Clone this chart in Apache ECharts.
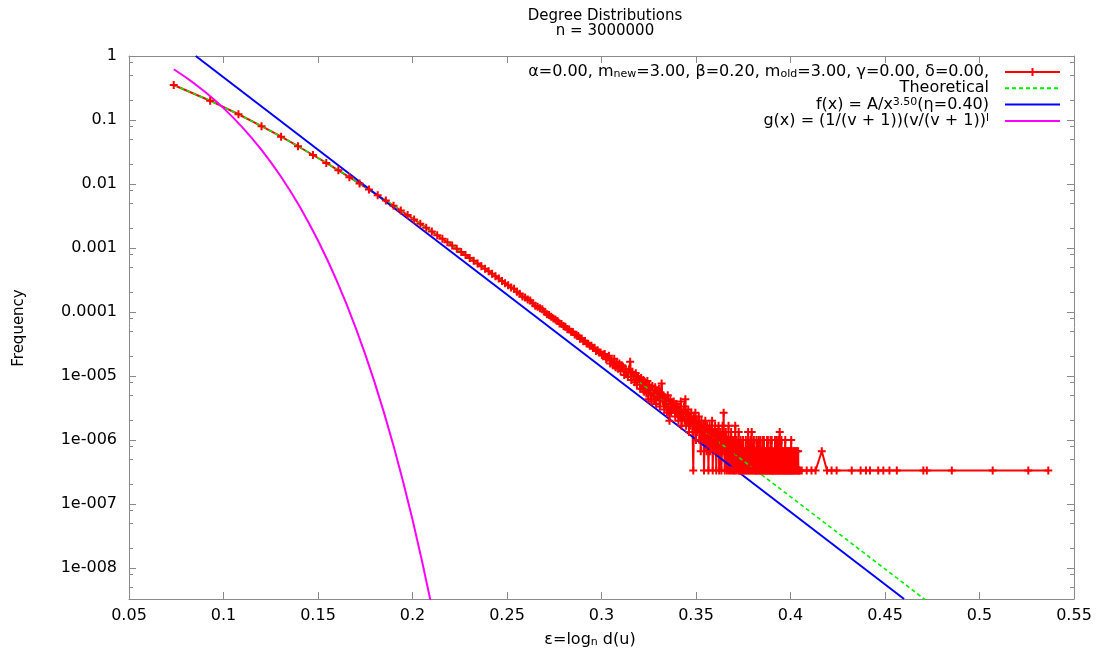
<!DOCTYPE html>
<html><head><meta charset="utf-8">
<script src="https://cdn.jsdelivr.net/npm/echarts@6/dist/echarts.min.js"></script>
<style>html,body{margin:0;padding:0;background:#fff}#c{width:1110px;height:657px}</style>
</head><body><div id="c"></div>
<script>
// ---------------- data ----------------
const n = 3000000;                       // number of nodes (title)
// empirical frequency, degrees 3..59
const headStartDegree = 3;
const headFreq = [0.3525,0.2002,0.1230,0.0802,0.0548,0.0389,0.0284,0.02135,0.01638,0.01280,
  0.01016,0.00819,0.00668,0.00551,0.00459,0.00386,0.00327,0.00280,0.00240,0.00208,
  0.00181,0.00158,0.00139,0.00123,0.00109,9.72e-4,8.69e-4,7.79e-4,7.01e-4,6.33e-4,
  5.73e-4,5.20e-4,4.74e-4,4.32e-4,3.95e-4,3.62e-4,3.33e-4,3.06e-4,2.82e-4,2.61e-4,
  2.42e-4,2.31e-4,2.08e-4,1.93e-4,1.75e-4,1.68e-4,1.57e-4,1.51e-4,1.37e-4,1.25e-4,
  1.21e-4,1.14e-4,1.10e-4,1.006e-4,9.2e-5,8.94e-5,8.45e-5];
// empirical node counts, degrees 60..420 (0 = no node of that degree)
const midStartDegree = 60;
const midCounts = [
  238,229,217,199,195,181,177,162,160,147,146,133,132,126,115,116,105,106,97,96,89,89,82,83,74,76,70,70,64,65,
  66,55,58,62,47,53,44,56,41,49,39,47,36,44,42,31,39,34,29,38,50,26,35,31,24,33,22,30,27,19,
  28,19,26,17,24,16,25,13,22,18,12,21,16,13,20,11,17,14,19,10,16,23,12,15,9,14,11,8,15,9,
  6,13,8,11,9,12,9,7,11,8,10,6,9,7,12,5,8,7,10,6,13,5,8,6,9,4,7,5,8,6,4,1,7,5,8,3,6,4,5,7,3,
  5,2,6,4,3,5,1,4,6,3,2,5,4,1,3,5,2,4,3,6,1,3,4,2,5,3,1,4,2,3,5,1,2,4,3,1,2,5,3,8,2,1,3,4,2,1,3,2,5,1,2,3,1,4,2,1,3,2,1,3,
  1,5,2,1,3,0,2,1,4,1,2,1,3,0,2,1,1,3,2,1,0,2,1,3,1,2,0,1,4,1,2,1,0,3,1,2,4,1,0,2,1,3,1,0,2,1,1,3,1,2,
  1,2,3,1,2,1,3,1,2,1,0,1,3,1,2,3,1,1,2,0,1,2,1,3,1,3,1,0,2,1,1,2,3,1,0,3,1,2,1,1,
  1,2,0,1,3,1,2,1,3,1,0,2,1,3,1,2,1,4,1,0,2,1,3,1,2,0,1,2,1,2,1,0,1,3,1,2,1,2,0,1,
  2,1,2,1,0,1,2,2,1,0,1,3,1,2,0,1,0,1,2,1,2,0,1,0,2,1,0,2,1,2,0,1,0,2,1,0,1,0,0,1];
// sparse tail, degrees above 420
const tailDegrees = [426,443,460,475,499,520,539,561,632,678,707,730,779,811,851,902,1112,1143,1392,1922,2546,2981];
const tailCounts  = [1,1,1,1,2,1,1,1,1,1,1,1,1,1,1,1,1,1,1,1,1,1];
// theoretical distribution
const theoDegrees = [3,4,5,6,7,8,9,10,12,14,16,18,20,23,26,30,35,40,45,50,60,70,80,100,130,160,200,250,300,400,500,700,900,1200];
const theoFreq = [0.3525,0.2002,0.1230,0.0802,0.0548,0.0389,0.0284,0.02135,0.0128,0.00819,0.00551,0.00386,0.0028,0.00181,0.00123,
  7.79e-4,4.74e-4,3.06e-4,2.08e-4,1.47e-4,7.99e-5,4.76e-5,3.03e-5,1.42e-5,5.79e-6,2.84e-6,1.31e-6,6.08e-7,3.23e-7,1.19e-7,
  5.47e-8,1.69e-8,7.05e-9,2.58e-9];
// f(x) = A/x^3.50
const powerEps  = [0.0853, 0.4601];
const powerFreq = [1, 3.28e-9];
// g(x)
const geoEps  = [0.0737,0.080,0.085,0.090,0.095,0.100,0.105,0.110,0.115,0.120,0.125,0.130,0.135,0.140,
  0.145,0.150,0.155,0.160,0.165,0.170,0.175,0.180,0.185,0.190,0.195,0.200,0.205,0.210];
const geoFreq = [0.620,0.465,0.363,0.278,0.209,0.1535,0.110,0.0768,0.0522,0.0344,0.0220,0.01357,8.06e-3,4.60e-3,
  2.51e-3,1.31e-3,6.50e-4,3.05e-4,1.35e-4,5.61e-5,2.18e-5,7.88e-6,2.63e-6,8.06e-7,2.25e-7,5.71e-8,1.30e-8,2.65e-9];
// axes
const xRange = [0.05, 0.55];
const xStep = 0.05;
const xTickLabels = ['0.05','0.1','0.15','0.2','0.25','0.3','0.35','0.4','0.45','0.5','0.55'];
const yRange = [3.28e-9, 1];
const yTickValues = [1,0.1,0.01,0.001,0.0001,1e-5,1e-6,1e-7,1e-8];
const yTickLabels = ['1','0.1','0.01','0.001','0.0001','1e-005','1e-006','1e-007','1e-008'];
const yMinorMantissas = [2,5,8];

// ---------------- build ----------------
const lg = v => Math.log10(v);
const eps = d => Math.log(d) / Math.log(n);
const yMinLog = lg(yRange[0]), yMaxLog = lg(yRange[1]);
const yMajorLog = yTickValues.map(lg);
const yMinorLog = [];
for (let k = 0; k >= -9; k--) yMinorMantissas.forEach(m => { const v = k - 1 + lg(m); if (v >= yMinLog && v <= yMaxLog) yMinorLog.push(v); });

const redData = [];
headFreq.forEach((f, i) => redData.push([eps(headStartDegree + i), lg(f)]));
midCounts.forEach((c, i) => { if (c > 0) redData.push([eps(midStartDegree + i), lg(c / n)]); });
tailDegrees.forEach((d, i) => redData.push([eps(d), lg(tailCounts[i] / n)]));
const theoData = theoDegrees.map((d, i) => [eps(d), lg(theoFreq[i])]);
const powerData = powerEps.map((e, i) => [e, lg(powerFreq[i])]);
const geoData = geoEps.map((e, i) => [e, lg(geoFreq[i])]);

const FONT = 'DejaVu Sans';
const GRAY = '#8a8a8a';
const plus = 'path://M3,0H5V3H8V5H5V8H3V5H0V3H3Z';
const legendText = {
  emp: 'α=0.00, m{sub|new}=3.00, β=0.20, m{sub|old}=3.00, γ=0.00, δ=0.00,{sp|}',
  Theoretical: 'Theoretical{sp|}',
  pow: 'f(x) = A/x{sup|3.50}(η=0.40){sp|}',
  geo: 'g(x) = (1/(v + 1))(v/(v + 1)){sup|l}{sp|}'
};

function xAxisCfg(pos, labels) {
  return {
    type: 'value', position: pos, min: xRange[0], max: xRange[1], interval: xStep,
    axisLine: { show: true, onZero: false, lineStyle: { color: GRAY, width: 1 } },
    axisTick: { show: true, inside: true, length: 7, lineStyle: { color: GRAY } },
    axisLabel: { show: labels, color: '#000', fontFamily: FONT, fontSize: 16, margin: 9,
      formatter: v => xTickLabels[Math.round((v - xRange[0]) / xStep)] },
    splitLine: { show: false }
  };
}
function yAxisCfg(pos, minor) {
  return {
    type: 'value', position: pos, min: yMinLog, max: yMaxLog,
    axisLine: { show: !minor, onZero: false, lineStyle: { color: GRAY, width: 1 } },
    axisTick: { show: true, inside: true, length: minor ? 4 : 7, customValues: minor ? yMinorLog : yMajorLog, lineStyle: { color: GRAY } },
    axisLabel: { show: pos === 'left' && !minor, customValues: yMajorLog, color: '#000', fontFamily: FONT, fontSize: 16, margin: 12,
      formatter: v => yTickLabels[Math.round(-v)] },
    splitLine: { show: false }
  };
}

const chart = echarts.init(document.getElementById('c'), null, { renderer: 'canvas' });
chart.setOption({
  animation: false,
  backgroundColor: '#fff',
  grid: { left: 129, top: 56, right: 36, bottom: 58, containLabel: false },
  xAxis: [xAxisCfg('bottom', true), xAxisCfg('top', false)],
  yAxis: [yAxisCfg('left', false), yAxisCfg('left', true), yAxisCfg('right', false), yAxisCfg('right', true)],
  legend: {
    data: [
      { name: 'emp' },
      { name: 'Theoretical', itemStyle: { opacity: 0 } },
      { name: 'pow', itemStyle: { opacity: 0 } },
      { name: 'geo', itemStyle: { opacity: 0 } }
    ],
    orient: 'vertical', align: 'right', right: 49, top: 64, itemGap: 0.3,
    itemWidth: 55, itemHeight: 10, padding: 0,
    formatter: name => legendText[name],
    textStyle: { fontFamily: FONT, fontSize: 16, color: '#000', lineHeight: 16,
      rich: {
        sub: { fontFamily: FONT, fontSize: 11, lineHeight: 6, verticalAlign: 'bottom', color: '#000' },
        sup: { fontFamily: FONT, fontSize: 11, lineHeight: 8, verticalAlign: 'top', color: '#000' },
        sp: { width: 11 }
      } }
  },
  graphic: [
    { type: 'text', x: 605, y: 16, style: { text: 'Degree Distributions', fontFamily: FONT, fontSize: 15, fill: '#000', align: 'center', verticalAlign: 'middle' } },
    { type: 'text', x: 605, y: 31, style: { text: 'n = 3000000', fontFamily: FONT, fontSize: 15, fill: '#000', align: 'center', verticalAlign: 'middle' } },
    { type: 'text', x: 590, y: 640, style: { text: 'ε=log{sub|n} d(u)', fontFamily: FONT, fontSize: 16, lineHeight: 16, fill: '#000', align: 'center', verticalAlign: 'middle',
      rich: { sub: { fontFamily: FONT, fontSize: 11, lineHeight: 6, verticalAlign: 'bottom', fill: '#000' } } } },
    { type: 'text', x: 19, y: 328, rotation: Math.PI / 2, style: { text: 'Frequency', fontFamily: FONT, fontSize: 15, fill: '#000', align: 'center', verticalAlign: 'middle' } }
  ],
  series: [
    { name: 'emp', type: 'line', data: redData, xAxisIndex: 0, yAxisIndex: 0,
      symbol: plus, symbolSize: 8, showSymbol: true,
      lineStyle: { color: '#ff0000', width: 2 }, itemStyle: { color: '#ff0000' }, emphasis: { disabled: true } },
    { name: 'Theoretical', type: 'line', data: theoData, symbol: 'none', showSymbol: false,
      lineStyle: { color: '#00ee00', width: 1.6, type: [4, 3] }, itemStyle: { color: '#00ee00' }, emphasis: { disabled: true } },
    { name: 'pow', type: 'line', data: powerData, symbol: 'none', showSymbol: false,
      lineStyle: { color: '#0000ff', width: 2 }, itemStyle: { color: '#0000ff' }, emphasis: { disabled: true } },
    { name: 'geo', type: 'line', data: geoData, symbol: 'none', showSymbol: false,
      lineStyle: { color: '#ff00ff', width: 2 }, itemStyle: { color: '#ff00ff' }, emphasis: { disabled: true } }
  ]
});
</script>
</body></html>
